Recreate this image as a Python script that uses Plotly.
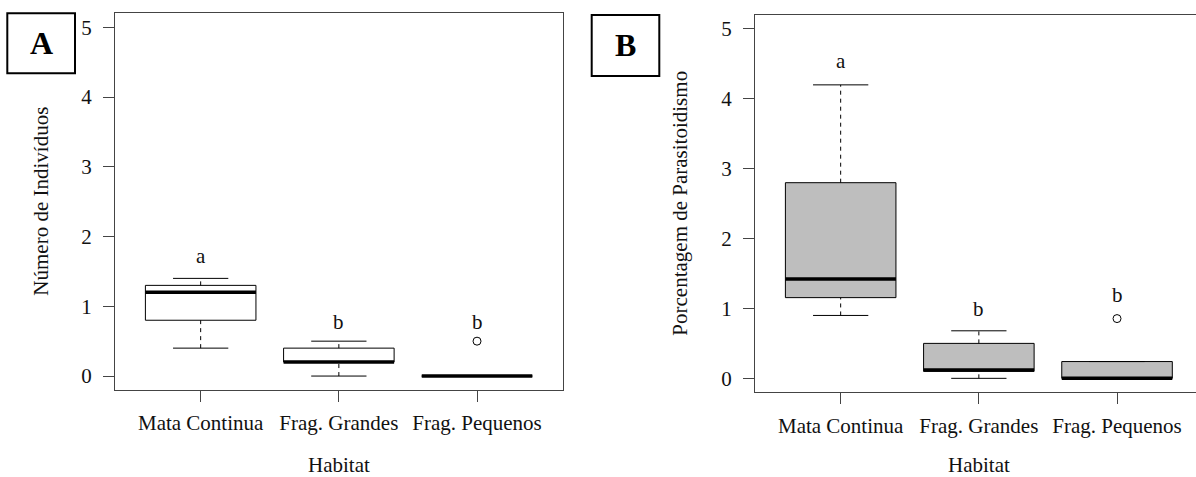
import plotly.graph_objects as go

W, H = 1196, 477

# ---------------- data ----------------
categories = ["Mata Continua", "Frag. Grandes", "Frag. Pequenos"]

# Panel A: Número de Indivíduos
a_min = [0.4, 0.0, 0.0]
a_q1 = [0.8, 0.2, 0.0]
a_med = [1.2, 0.2, 0.0]
a_q3 = [1.3, 0.4, 0.0]
a_max = [1.4, 0.5, 0.0]
a_out_x = [2]
a_out_y = [0.5]
a_letters = ["a", "b", "b"]
a_letter_y = [1.72, 0.78, 0.78]

# Panel B: Porcentagem de Parasitoidismo
b_min = [0.9, 0.0, 0.0]
b_q1 = [1.155, 0.1, 0.0]
b_med = [1.42, 0.12, 0.0]
b_q3 = [2.8, 0.5, 0.24]
b_max = [4.2, 0.68, 0.24]
b_out_x = [2]
b_out_y = [0.855]
b_letters = ["a", "b", "b"]
b_letter_y = [4.54, 0.99, 1.19]

y_ticks = [0, 1, 2, 3, 4, 5]

FONT = "Liberation Serif, Times New Roman, serif"
FS = 21
LINE = "#444444"


def px(x):
    return x / W


def py(y):
    return 1 - y / H


fig = go.Figure()


def add_panel(xr, yr, mins, q1s, meds, q3s, maxs, out_x, out_y, fill):
    for i in range(len(categories)):
        c = i
        fig.add_trace(go.Scatter(
            x=[c - 0.4, c + 0.4, c + 0.4, c - 0.4, c - 0.4],
            y=[q1s[i], q1s[i], q3s[i], q3s[i], q1s[i]],
            mode="lines", fill="toself", fillcolor=fill,
            line=dict(color="black", width=1),
            xaxis=xr, yaxis=yr, hoverinfo="skip"))
        fig.add_trace(go.Scatter(
            x=[c, c, None, c, c],
            y=[q3s[i], maxs[i], None, mins[i], q1s[i]],
            mode="lines", line=dict(color="black", width=1, dash="4px,4px"),
            xaxis=xr, yaxis=yr, hoverinfo="skip"))
        fig.add_trace(go.Scatter(
            x=[c - 0.2, c + 0.2, None, c - 0.2, c + 0.2],
            y=[maxs[i], maxs[i], None, mins[i], mins[i]],
            mode="lines", line=dict(color="black", width=1),
            xaxis=xr, yaxis=yr, hoverinfo="skip"))
        fig.add_trace(go.Scatter(
            x=[c - 0.4, c + 0.4], y=[meds[i], meds[i]],
            mode="lines", line=dict(color="black", width=3.5),
            xaxis=xr, yaxis=yr, hoverinfo="skip"))
    fig.add_trace(go.Scatter(
        x=out_x, y=out_y, mode="markers",
        marker=dict(symbol="circle-open", size=8, color="black",
                    line=dict(width=1, color="black")),
        xaxis=xr, yaxis=yr, hoverinfo="skip"))


add_panel("x", "y", a_min, a_q1, a_med, a_q3, a_max, a_out_x, a_out_y, "white")
add_panel("x2", "y2", b_min, b_q1, b_med, b_q3, b_max, b_out_x, b_out_y, "#bebebe")

# panel geometry (pixels)
A_L, A_R, A_T, A_B = 115, 562.7, 13.3, 390
B_L, B_T, B_B = 755, 15, 392.3
x_lo, x_hi = -0.62, 2.62
units_per_px = (x_hi - x_lo) / (A_R - A_L)
b_x_hi = x_lo + (W - B_L) * units_per_px

common_x = dict(
    tickvals=[0, 1, 2], ticktext=categories, ticks="outside", ticklen=11,
    tickcolor=LINE, tickwidth=1, showline=True, linecolor=LINE, linewidth=1.3,
    mirror=True, showgrid=False, zeroline=False,
    tickfont=dict(family=FONT, size=FS, color="#111"), ticklabelstandoff=3,
    fixedrange=True,
)
common_y = dict(
    tickvals=y_ticks, ticktext=[str(t) for t in y_ticks], ticks="outside",
    ticklen=11, tickcolor=LINE, tickwidth=1, showline=True, linecolor=LINE,
    linewidth=1.3, showgrid=False, zeroline=False, range=[-0.2, 5.2],
    tickfont=dict(family=FONT, size=FS, color="#111"), ticklabelstandoff=7,
    fixedrange=True,
)

fig.update_layout(
    width=W, height=H, autosize=False,
    margin=dict(l=0, r=0, t=0, b=0, pad=0),
    paper_bgcolor="white", plot_bgcolor="white", showlegend=False,
    xaxis=dict(domain=[px(A_L), px(A_R)], range=[x_lo, x_hi], anchor="y", **common_x),
    yaxis=dict(domain=[py(A_B), py(A_T)], anchor="x", mirror=True, **common_y),
    xaxis2=dict(domain=[px(B_L), 1], range=[x_lo, b_x_hi], anchor="y2", **common_x),
    yaxis2=dict(domain=[py(B_B), py(B_T)], anchor="x2", mirror=False, **common_y),
)

txt = dict(family=FONT, size=FS, color="#111")
annotations = []
for i in range(len(categories)):
    annotations.append(dict(x=i, y=a_letter_y[i], xref="x", yref="y", text=a_letters[i],
                            xanchor="center", yanchor="middle",
                            showarrow=False, font=txt))
    annotations.append(dict(x=i, y=b_letter_y[i], xref="x2", yref="y2", text=b_letters[i],
                            xanchor="center", yanchor="middle",
                            showarrow=False, font=txt))

annotations += [
    dict(x=1, y=py(465), xref="x", yref="paper", text="Habitat",
         xanchor="center", yanchor="middle", showarrow=False, font=txt),
    dict(x=1, y=py(465), xref="x2", yref="paper", text="Habitat",
         xanchor="center", yanchor="middle", showarrow=False, font=txt),
    dict(x=px(41), y=py((A_T + A_B) / 2), xref="paper", yref="paper",
         text="Número de Indivíduos", textangle=-90,
         xanchor="center", yanchor="middle", showarrow=False, font=txt),
    dict(x=px(680), y=py((B_T + B_B) / 2), xref="paper", yref="paper",
         text="Porcentagem de Parasitoidismo", textangle=-90,
         xanchor="center", yanchor="middle", showarrow=False, font=txt),
    dict(x=px(41), y=py(43.5), xref="paper", yref="paper", text="<b>A</b>",
         xanchor="center", yanchor="middle",
         showarrow=False, font=dict(family=FONT, size=32, color="black")),
    dict(x=px(625.5), y=py(45.5), xref="paper", yref="paper", text="<b>B</b>",
         xanchor="center", yanchor="middle",
         showarrow=False, font=dict(family=FONT, size=32, color="black")),
]
fig.update_layout(annotations=annotations)

fig.update_layout(shapes=[
    dict(type="rect", xref="paper", yref="paper", x0=px(7.3), x1=px(75),
         y0=py(73.3), y1=py(13.3), line=dict(color="black", width=2)),
    dict(type="rect", xref="paper", yref="paper", x0=px(591.7), x1=px(659.3),
         y0=py(76), y1=py(15), line=dict(color="black", width=2)),
])

fig.write_html("out.html")
